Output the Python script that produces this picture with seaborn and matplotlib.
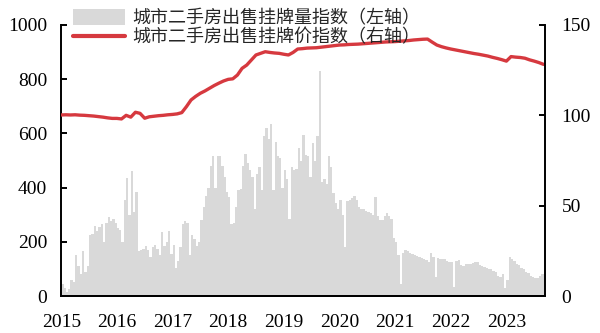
import numpy as np
import pandas as pd
import matplotlib
matplotlib.use("Agg")
import matplotlib.pyplot as plt
import seaborn as sns
from matplotlib.patches import Patch
from matplotlib.lines import Line2D

# ---- data ----
# semi-monthly listing-volume index (left axis), Jan 2015 .. first half Sep 2023
volume = [
    45, 30, 15, 25, 60, 50, 150, 110, 80, 165, 90, 110,
    225, 230, 260, 240, 255, 265, 200, 270, 290, 275, 285, 270,
    250, 245, 200, 355, 435, 300, 460, 310, 385, 165, 170, 175,
    185, 170, 145, 180, 190, 175, 150, 235, 185, 200, 240, 155,
    190, 105, 130, 180, 265, 275, 270, 150, 225, 210, 185, 200,
    280, 330, 370, 400, 480, 515, 400, 515, 515, 480, 440, 385,
    365, 265, 270, 330, 390, 395, 480, 525, 490, 465, 440, 320,
    450, 475, 390, 590, 620, 580, 635, 390, 570, 515, 510, 400,
    465, 430, 285, 475, 465, 470, 545, 500, 595, 520, 515, 440,
    565, 500, 590, 830, 420, 430, 415, 515, 475, 380, 345, 320,
    355, 300, 182, 350, 355, 360, 368, 355, 330, 320, 320, 315,
    310, 305, 300, 365, 295, 280, 280, 295, 305, 295, 285, 215,
    200, 150, 45, 160, 170, 165, 158, 155, 150, 148, 145, 140,
    138, 132, 125, 160, 145, 70, 140, 138, 137, 135, 128, 125,
    125, 35, 130, 133, 115, 112, 120, 118, 120, 122, 126, 124,
    114, 112, 107, 105, 100, 98, 93, 90, 75, 70, 80, 30,
    60, 145, 135, 130, 118, 115, 105, 100, 88, 84, 74, 70,
    66, 68, 73, 80, 98,
]
# monthly listing-price index (right axis), Jan 2015 .. Sep 2023
price = [
    100.2, 100.3, 100.2, 100.3, 100.1, 100.0, 99.8, 99.6, 99.3, 99.0, 98.6, 98.3,
    98.3, 98.0, 100.0, 99.0, 101.7, 101.1, 98.4, 99.2, 99.5, 99.8, 100.0, 100.3,
    100.5, 100.8, 101.5, 104.8, 108.5, 110.5, 112.2, 113.5, 115.0, 116.5, 117.8, 119.0,
    119.9, 120.2, 122.3, 126.0, 127.8, 130.6, 133.4, 134.3, 135.2, 134.8, 134.5, 134.3,
    133.8, 133.4, 134.8, 136.7, 136.9, 137.2, 137.3, 137.4, 137.7, 138.0, 138.3, 138.6,
    138.9, 139.0, 139.2, 139.3, 139.4, 139.6, 139.8, 140.0, 140.2, 140.4, 140.6, 140.7,
    140.8, 141.0, 141.2, 141.4, 141.7, 141.9, 142.1, 142.2, 140.5, 138.9, 138.0, 137.3,
    136.7, 136.2, 135.7, 135.2, 134.7, 134.2, 133.8, 133.3, 132.8, 132.1, 131.5, 130.8,
    130.0, 132.5, 132.2, 132.0, 131.6, 130.7, 130.0, 129.2, 128.2,
]
year_ticks = [2015, 2016, 2017, 2018, 2019, 2020, 2021, 2022, 2023]
left_ticks = [0, 200, 400, 600, 800, 1000]
right_ticks = [0, 50, 100, 150]
label_volume = "城市二手房出售挂牌量指数（左轴）"
label_price = "城市二手房出售挂牌价指数（右轴）"

# ---- positions in decimal years ----
vol_x = 2015 + (np.arange(len(volume)) + 0.5) / 24
price_x = 2015 + np.arange(len(price)) / 12
df_vol = pd.DataFrame({"t": vol_x, "v": np.asarray(volume, dtype=float)})
df_price = pd.DataFrame({"t": price_x, "p": price})

sns.set_style("white")
plt.rcParams["font.family"] = ["Liberation Serif", "Noto Sans CJK SC"]

GREY = "#D9D9D9"
RED = "#D6393F"

fig = plt.figure(figsize=(6.0, 3.33), dpi=100)
ax = fig.add_axes([0.102, 0.111, 0.806, 0.814])

sns.histplot(data=df_vol, x="t", weights="v", binwidth=1 / 24,
             binrange=(2015, 2015 + len(volume) / 24), ax=ax,
             color=GREY, alpha=1.0, linewidth=0, element="bars")
ax.set_ylim(0, 1000)
ax.set_xlim(2015, 2023.69)
ax.set_yticks(left_ticks)
ax.set_xticks(year_ticks)
ax.set_xticklabels([str(y) for y in year_ticks])
ax.set_xlabel("")
ax.set_ylabel("")

ax2 = ax.twinx()
sns.lineplot(data=df_price, x="t", y="p", ax=ax2, color=RED, linewidth=2.4)
ax2.set_ylim(0, 150)
ax2.set_yticks(right_ticks)
ax2.set_xlim(2015, 2023.69)
ax2.set_ylabel("")
ax2.set_xlabel("")

for a in (ax, ax2):
    a.spines["top"].set_visible(False)
    for s in ("left", "right", "bottom"):
        a.spines[s].set_linewidth(1.4)
        a.spines[s].set_color("black")
    a.tick_params(direction="in", length=4, width=1.4, labelsize=14,
                  colors="black")
ax.spines["right"].set_visible(False)
ax2.spines["left"].set_visible(False)
ax.tick_params(axis="y", left=True, right=False, pad=10)
ax.tick_params(axis="x", bottom=True, pad=13)
ax2.tick_params(axis="y", right=True, left=False, pad=12)
for lab in ax.get_xticklabels() + ax.get_yticklabels() + ax2.get_yticklabels():
    lab.set_fontfamily("Liberation Serif")

handles = [Patch(facecolor=GREY, edgecolor="none"),
           Line2D([0], [0], color=RED, linewidth=3)]
fig.legend(handles, [label_volume, label_price], loc="upper left",
           bbox_to_anchor=(0.10, 1.01), frameon=False,
           prop={"family": ["Noto Sans CJK SC"], "size": 13},
           handlelength=2.9, handleheight=1.0, handletextpad=0.4,
           labelspacing=0.05, borderpad=0.2)

fig.savefig("out.png", dpi=100)
